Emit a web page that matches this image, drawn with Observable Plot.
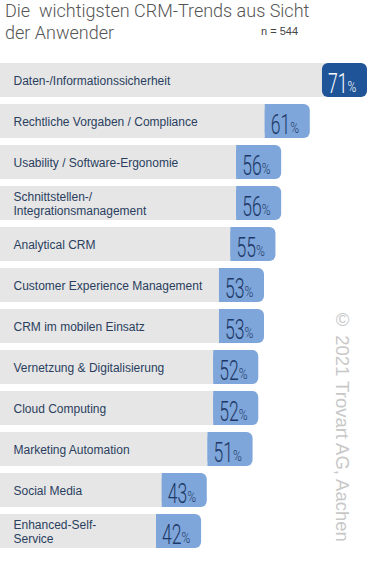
<!DOCTYPE html>
<html>
<head>
<meta charset="utf-8">
<script src="https://cdn.jsdelivr.net/npm/d3@7"></script>
<script src="https://cdn.jsdelivr.net/npm/@observablehq/plot@0.6"></script>
<style>
  html, body { margin: 0; padding: 0; background: #fff; }
  body { width: 367px; height: 583px; position: relative; overflow: hidden; font-family: "Liberation Sans", Arial, sans-serif; }
  #head { position: relative; height: 50px; }
  #t1, #t2 { position: absolute; left: 5px; font-family: Roboto, "Liberation Sans", sans-serif; font-weight: 300; font-size: 18px; line-height: normal; color: #555; white-space: pre; }
  #t1 { top: 0px; }
  #t2 { top: 22px; }
  #n { position: absolute; left: 261px; top: 25px; font-size: 11px; color: #444; }
  #wm { position: absolute; left: 331px; top: 309px; writing-mode: vertical-rl; font-size: 18.5px; color: #c8c8c8; white-space: nowrap; }
</style>
</head>
<body>
<div id="head"><div id="t1"></div><div id="t2"></div><div id="n"></div></div>
<div id="chart"></div>
<div id="wm"></div>
<script>
const titleLines = ["Die  wichtigsten CRM-Trends aus Sicht", "der Anwender"];
const sampleNote = "n = 544";
const copyright = "© 2021 Trovart AG, Aachen";
const categories = [
  "Daten-/Informationssicherheit",
  "Rechtliche Vorgaben / Compliance",
  "Usability / Software-Ergonomie",
  "Schnittstellen-/\nIntegrationsmanagement",
  "Analytical CRM",
  "Customer Experience Management",
  "CRM im mobilen Einsatz",
  "Vernetzung & Digitalisierung",
  "Cloud Computing",
  "Marketing Automation",
  "Social Media",
  "Enhanced-Self-\nService"
];
const values = [71, 61, 56, 56, 55, 53, 53, 52, 52, 51, 43, 42];

document.getElementById("t1").textContent = titleLines[0];
document.getElementById("t2").textContent = titleLines[1];
document.getElementById("n").textContent = sampleNote;
document.getElementById("wm").textContent = copyright;

const rows = categories.map((c, i) => ({category: c, value: values[i], top: i === 0}));
const xMin = 6.86, xMax = 71;
const badge = 7.87; // badge width in value units (~45px)
const dark = "#1f5598", light = "#7ea6da", grey = "#e6e6e6", ink = "#2a3e5e";
const numFont = "Roboto, Liberation Sans, Arial, sans-serif";

const chart = Plot.plot({
  width: 367,
  height: 533,
  marginLeft: 0,
  marginRight: 0,
  marginTop: 2.9,
  marginBottom: 24.9,
  x: {domain: [xMin, xMax], axis: null},
  y: {domain: categories, axis: null, padding: 0.17},
  marks: [
    Plot.barX(rows, {y: "category", x1: () => xMin, x2: d => d.value - badge / 2, fill: grey}),
    Plot.barX(rows, {y: "category", x1: d => d.value - badge, x2: "value", fill: d => d.top ? dark : light, rx: 6}),
    Plot.barX(rows.filter(d => !d.top), {y: "category", x1: d => d.value - badge, x2: d => d.value - badge / 2, fill: light}),
    Plot.text(rows, {y: "category", x: () => xMin, dx: 13, text: "category", textAnchor: "start", fontSize: 12, lineHeight: 1.12, fill: ink, fontFamily: "Liberation Sans, Arial, sans-serif"}),
    Plot.text(rows, {y: "category", x: "value", dx: -20, dy: 3.5, text: d => String(d.value), textAnchor: "end", fontSize: 27.5, fontWeight: 300, fill: d => d.top ? "#ffffff" : "#1d3866", fontFamily: numFont}),
    Plot.text(rows, {y: "category", x: "value", dx: -20, dy: 7, text: () => "%", textAnchor: "start", fontSize: 15, fontWeight: 300, fill: d => d.top ? "#ffffff" : "#1d3866", fontFamily: numFont})
  ]
});
document.getElementById("chart").appendChild(chart);
// condense the percentage figures horizontally
const textGroups = chart.querySelectorAll('g[aria-label="text"]');
[[textGroups[1], 0.64], [textGroups[2], 0.8]].forEach(([g, s]) => {
  if (!g) return;
  g.querySelectorAll("text").forEach(t => {
    const tr = t.getAttribute("transform") || "";
    t.setAttribute("transform", tr + ` scale(${s},1)`);
  });
});
</script>
</body>
</html>
